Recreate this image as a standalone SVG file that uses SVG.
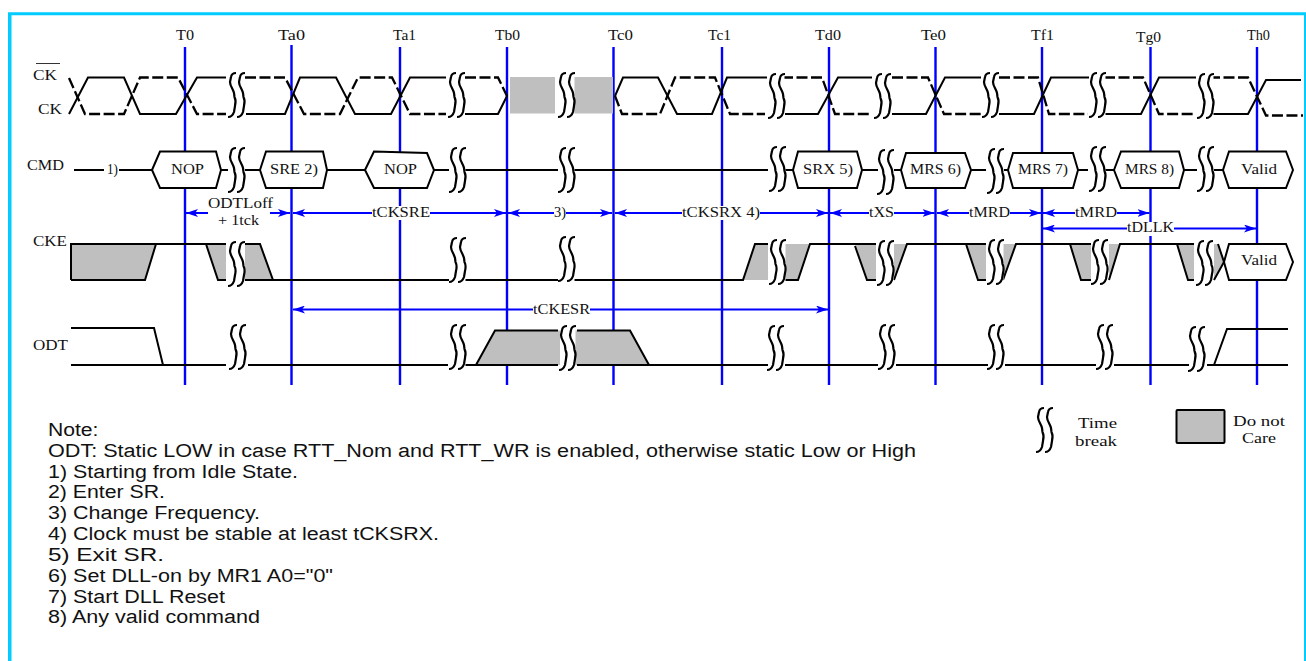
<svg xmlns="http://www.w3.org/2000/svg" width="1306" height="661" viewBox="0 0 1306 661">
<style>
.s{font-family:"Liberation Serif","Times New Roman",serif;font-size:14px;fill:#111}
.n{font-family:"Liberation Sans",Arial,sans-serif;font-size:18px;fill:#111}
.w{fill:none;stroke:#000;stroke-width:2;stroke-linejoin:miter}
.d{stroke-dasharray:11 3.5;stroke-width:2.3}
.g{fill:#bfbfbf;stroke:none}
.h{fill:#fff;stroke:#000;stroke-width:2}
.v{stroke:#0000ff;stroke-width:2.4;fill:none}
.a{stroke:#0000ff;stroke-width:1.8;fill:none;marker-start:url(#ah);marker-end:url(#ah)}
.b{fill:#fff;stroke:none}
.c{fill:none;stroke:#000;stroke-width:2.2;stroke-linejoin:round}
</style>
<defs>
<marker id="ah" markerUnits="userSpaceOnUse" markerWidth="12" markerHeight="8" refX="12" refY="4" orient="auto-start-reverse"><path d="M0,0L12,4L0,8L3,4Z" fill="#0000ff"/></marker>
<path id="bc" class="c" d="M8,0C5,0 3.5,1 3,4L2,9C2,13 5,16 6,20L6.5,24C8,27 8,29 7,33L6,39C5,42 3,44 0,44"/>
<g id="br">
<rect class="b" x="1" y="0" width="15.5" height="45"/>
<use href="#bc"/>
<use href="#bc" x="9"/>
</g>
</defs>
<rect width="1306" height="661" fill="#fff"/>
<path id="frame" d="M8,661V12.3H1306V661H1304V15.2H11.5V661Z" fill="#00ccff"/>

<g id="grid">
<path class="v" d="M185,47V385M291.5,45V385M400,47V385M507,47V385M613.5,47V385M722,47V385M829,47V385M935.5,47V385M1042,47V385M1150.5,47V385M1257,47V385"/>
</g>
<g id="ticks">
<text class="s" x="176" y="39.5" textLength="18" lengthAdjust="spacingAndGlyphs">T0</text>
<text class="s" x="278" y="39.5" textLength="27" lengthAdjust="spacingAndGlyphs">Ta0</text>
<text class="s" x="393" y="39.5" textLength="23" lengthAdjust="spacingAndGlyphs">Ta1</text>
<text class="s" x="495" y="39.5" textLength="25" lengthAdjust="spacingAndGlyphs">Tb0</text>
<text class="s" x="608" y="39.5" textLength="25" lengthAdjust="spacingAndGlyphs">Tc0</text>
<text class="s" x="708" y="39.5" textLength="23" lengthAdjust="spacingAndGlyphs">Tc1</text>
<text class="s" x="815" y="39.5" textLength="26" lengthAdjust="spacingAndGlyphs">Td0</text>
<text class="s" x="921" y="39.5" textLength="25" lengthAdjust="spacingAndGlyphs">Te0</text>
<text class="s" x="1031" y="39.5" textLength="23" lengthAdjust="spacingAndGlyphs">Tf1</text>
<text class="s" x="1136" y="42" textLength="25" lengthAdjust="spacingAndGlyphs">Tg0</text>
<text class="s" x="1247" y="39.5" textLength="23" lengthAdjust="spacingAndGlyphs">Th0</text>
</g>
<g id="signal-labels">
<text class="s" x="33" y="80" textLength="24" lengthAdjust="spacingAndGlyphs">CK</text>
<path d="M36,63.5H60" stroke="#333" stroke-width="1"/>
<text class="s" x="38" y="114" textLength="24" lengthAdjust="spacingAndGlyphs">CK</text>
<text class="s" x="27" y="170" textLength="37" lengthAdjust="spacingAndGlyphs">CMD</text>
<text class="s" x="33" y="246" textLength="34" lengthAdjust="spacingAndGlyphs">CKE</text>
<text class="s" x="33" y="350" textLength="35" lengthAdjust="spacingAndGlyphs">ODT</text>
</g>

<g id="clock">
<path class="w" d="M69,114L88,77.5H124L140,114H176L197,77.5H226"/>
<path class="w d" d="M69,78L85,114H124L140,77.5H178L197,114H226"/>
<path class="w d" d="M245,77.5H285L304,114H340L358,77.5H392L410,114H446"/>
<path class="w" d="M246,114H285L300,77.5H336L355,114H391L410,77.5H446"/>
<path class="w d" d="M465,77.5H498L507,96"/>
<path class="w" d="M465,114H498L507,96"/>
<rect class="g" x="510" y="77" width="45" height="36.5"/>
<rect class="g" x="574" y="77" width="39" height="36.5"/>
<path class="w" d="M615,96L623,77.5H658L677,114H712L727,77.5H767"/>
<path class="w d" d="M615,96L622,114H660L675,77.5H715L730,114H765"/>
<path class="w" d="M785,114H818L838,77.5H872"/>
<path class="w d" d="M782,77.5H822L835,114H872"/>
<path class="w" d="M892,114H926L945,77.5H981"/>
<path class="w d" d="M892,77.5H928L944,114H981"/>
<path class="w" d="M999,114H1034L1051,77.5H1089"/>
<path class="w d" d="M999,77.5H1038L1049,114H1088"/>
<path class="w" d="M1105,114H1141L1159,77.5H1196"/>
<path class="w d" d="M1104,77.5H1143L1159,114H1194"/>
<path class="w" d="M1213,114H1248L1266,80H1301"/>
<path class="w d" d="M1209,77.5H1248L1266,115.5H1303"/>
<g id="clock-breaks">
<use href="#br" x="228" y="73"/><use href="#br" x="448" y="73"/><use href="#br" x="558" y="73"/><use href="#br" x="768" y="74"/><use href="#br" x="874" y="74"/><use href="#br" x="982" y="73"/><use href="#br" x="1089" y="73"/><use href="#br" x="1197" y="74"/>
</g>
</g>

<g id="cmd-line">
<path class="w" d="M74,170H104M119,170H152M221,170H228M245,170H260M327,170H365M434,170H449M465,170H558M574,170H768M785,170H793M862,170H878M894,170H901M971,170H986M1004,170H1008M1078,170H1088M1105,170H1114M1184,170H1197M1214,170H1223"/>
<text class="s" x="107" y="174" textLength="11" lengthAdjust="spacingAndGlyphs">1)</text>
</g>
<g id="cmd-breaks">
<use href="#br" x="228" y="148"/><use href="#br" x="449" y="148"/><use href="#br" x="558" y="148"/><use href="#br" x="769" y="147"/><use href="#br" x="877" y="150"/><use href="#br" x="987" y="149"/><use href="#br" x="1089" y="147"/><use href="#br" x="1197" y="147"/>
</g>
<g id="cmd-nop1"><path class="h" d="M152,170L160,151.5H216L221,170L216,188H160Z"/><text class="s" x="171" y="174" textLength="33" lengthAdjust="spacingAndGlyphs">NOP</text></g>
<g id="cmd-sre"><path class="h" d="M260,170L266,151.5H323L327,170L323,188H266Z"/><text class="s" x="270" y="174" textLength="48" lengthAdjust="spacingAndGlyphs">SRE 2)</text></g>
<g id="cmd-nop2"><path class="h" d="M365,170L374,151.5L427,153L434,170L427,188H374Z"/><text class="s" x="384" y="174" textLength="33" lengthAdjust="spacingAndGlyphs">NOP</text></g>
<g id="cmd-srx"><path class="h" d="M793,170L798,151.5H857L862,170L857,188H798Z"/><text class="s" x="803" y="174" textLength="50" lengthAdjust="spacingAndGlyphs">SRX 5)</text></g>
<g id="cmd-mrs6"><path class="h" d="M901,170L906,153H965L971,170L965,188H906Z"/><text class="s" x="910" y="174" textLength="51" lengthAdjust="spacingAndGlyphs">MRS 6)</text></g>
<g id="cmd-mrs7"><path class="h" d="M1008,170L1013,153H1073L1078,170L1073,188H1013Z"/><text class="s" x="1018" y="174" textLength="50" lengthAdjust="spacingAndGlyphs">MRS 7)</text></g>
<g id="cmd-mrs8"><path class="h" d="M1114,170L1121,151.5H1179L1184,170L1179,188H1121Z"/><text class="s" x="1125" y="174" textLength="49" lengthAdjust="spacingAndGlyphs">MRS 8)</text></g>
<g id="cmd-valid"><path class="h" d="M1223,170L1229,151.5H1286L1293,170L1286,188H1229Z"/><text class="s" x="1241" y="174" textLength="36" lengthAdjust="spacingAndGlyphs">Valid</text></g>

<g id="timing">
<path class="a" d="M186,213H290"/>
<rect class="b" x="208" y="197" width="62" height="30"/>
<text class="s" x="208" y="208" textLength="65" lengthAdjust="spacingAndGlyphs">ODTLoff</text>
<text class="s" x="218" y="225" textLength="41" lengthAdjust="spacingAndGlyphs">+ 1tck</text>
<path class="a" d="M293,213H506"/>
<rect class="b" x="372" y="206" width="58" height="14"/>
<text class="s" x="372" y="217" textLength="58" lengthAdjust="spacingAndGlyphs">tCKSRE</text>
<path class="a" d="M508,213H612"/>
<rect class="b" x="554" y="206" width="12" height="14"/>
<text class="s" x="554" y="217" textLength="12" lengthAdjust="spacingAndGlyphs">3)</text>
<path class="a" d="M615,213H828"/>
<rect class="b" x="682" y="206" width="78" height="14"/>
<text class="s" x="682" y="217" textLength="78" lengthAdjust="spacingAndGlyphs">tCKSRX 4)</text>
<path class="a" d="M830,213H934.5"/>
<rect class="b" x="869" y="206" width="25" height="14"/>
<text class="s" x="869" y="217" textLength="25" lengthAdjust="spacingAndGlyphs">tXS</text>
<path class="a" d="M937,213H1041"/>
<rect class="b" x="969" y="206" width="41" height="14"/>
<text class="s" x="969" y="217" textLength="41" lengthAdjust="spacingAndGlyphs">tMRD</text>
<path class="a" d="M1043,213H1149.5"/>
<rect class="b" x="1075" y="206" width="42" height="14"/>
<text class="s" x="1075" y="217" textLength="42" lengthAdjust="spacingAndGlyphs">tMRD</text>
<path class="a" d="M1043,228.5H1256"/>
<rect class="b" x="1127" y="222" width="47" height="14"/>
<text class="s" x="1127" y="232" textLength="47" lengthAdjust="spacingAndGlyphs">tDLLK</text>
<path class="a" d="M293,309.5H828"/>
<rect class="b" x="533" y="303" width="57" height="13"/>
<text class="s" x="533" y="314" textLength="57" lengthAdjust="spacingAndGlyphs">tCKESR</text>
</g>

<g id="cke">
<path class="g" d="M71,244H156L145,280H71Z"/>
<path class="g" d="M206,244H226V280H218Z"/>
<path class="g" d="M245,244H260L273,280H245Z"/>
<path class="g" d="M755,244H768V280H743Z"/>
<path class="g" d="M785,244H810L798,280H785Z"/>
<path class="g" d="M855,244H876V280H867Z"/>
<path class="g" d="M894,244H907L894,280Z"/>
<path class="g" d="M966,244H986V280H978Z"/>
<path class="g" d="M1003,244H1016L1003,280Z"/>
<path class="g" d="M1070,244H1091V280H1081Z"/>
<path class="g" d="M1109,244H1120L1109,280Z"/>
<path class="g" d="M1177,244H1194V280H1188Z"/>
<path class="g" d="M1214,244H1218L1224,262L1214,280Z"/>
<path class="w" d="M71,280V244H226"/>
<path class="w" d="M71,280H145L156,244"/>
<path class="w" d="M206,244L218,280H226"/>
<path class="w" d="M245,244H260L273,280H449"/>
<path class="w" d="M245,280H273"/>
<path class="w" d="M465,280H558M574,280H743L755,244H768"/>
<path class="w" d="M785,280H798L810,244H876"/>
<path class="w" d="M855,246L867,280H876"/>
<path class="w" d="M894,280L907,244H986"/>
<path class="w" d="M966,244L978,280H986"/>
<path class="w" d="M1003,280L1016,244H1091"/>
<path class="w" d="M1070,244L1081,280H1091"/>
<path class="w" d="M1109,280L1120,244H1194"/>
<path class="w" d="M1177,244L1188,280H1194"/>
<path class="w" d="M1214,280L1224,262L1218,244"/>
<use href="#br" x="228" y="242"/><use href="#br" x="449" y="238"/><use href="#br" x="558" y="237"/><use href="#br" x="769" y="240"/><use href="#br" x="877" y="241"/><use href="#br" x="987" y="240"/><use href="#br" x="1091" y="240"/><use href="#br" x="1196" y="241"/>
<path class="h" d="M1224,262L1229,244H1286L1293,262L1286,280H1229Z"/>
<text class="s" x="1241" y="265" textLength="36" lengthAdjust="spacingAndGlyphs">Valid</text>
</g>

<g id="odt">
<path class="g" d="M476,365L495,330.5H630L649,365Z"/>
<path class="w" d="M71,328H154L163,365"/>
<path class="w" d="M71,365H226M248,365H448M465,365H558M577,365H768M785,365H878M896,365H988M1005,365H1096M1114,365H1189M1207,365H1288"/>
<path class="w" d="M476,365L495,330.5H558M577,330.5H630L649,365"/>
<path class="w" d="M1214,365L1227,329H1288"/>
<use href="#br" x="229" y="325"/><use href="#br" x="449" y="325"/><use href="#br" x="559" y="326"/><use href="#br" x="767" y="326"/><use href="#br" x="878" y="325"/><use href="#br" x="987" y="325"/><use href="#br" x="1096" y="325"/><use href="#br" x="1188" y="327"/>
</g>

<g id="legend">
<use href="#br" x="1036" y="408"/>
<text class="s" x="1078" y="428" textLength="39" lengthAdjust="spacingAndGlyphs">Time</text>
<text class="s" x="1075" y="446" textLength="42" lengthAdjust="spacingAndGlyphs">break</text>
<rect x="1176.5" y="410" width="48" height="33" rx="1" fill="#bfbfbf" stroke="#000" stroke-width="2"/>
<text class="s" x="1233" y="426" textLength="52" lengthAdjust="spacingAndGlyphs">Do not</text>
<text class="s" x="1242" y="443" textLength="34" lengthAdjust="spacingAndGlyphs">Care</text>
</g>

<g id="notes">
<text class="n" x="48" y="436" textLength="50.5" lengthAdjust="spacingAndGlyphs">Note:</text>
<text class="n" x="48" y="457" textLength="868" lengthAdjust="spacingAndGlyphs">ODT: Static LOW in case RTT_Nom and RTT_WR is enabled, otherwise static Low or High</text>
<text class="n" x="48" y="478" textLength="250" lengthAdjust="spacingAndGlyphs">1) Starting from Idle State.</text>
<text class="n" x="48" y="498" textLength="117" lengthAdjust="spacingAndGlyphs">2) Enter SR.</text>
<text class="n" x="48" y="519" textLength="212" lengthAdjust="spacingAndGlyphs">3) Change Frequency.</text>
<text class="n" x="48" y="540" textLength="391" lengthAdjust="spacingAndGlyphs">4) Clock must be stable at least tCKSRX.</text>
<text class="n" x="48" y="561" textLength="116" lengthAdjust="spacingAndGlyphs">5) Exit SR.</text>
<text class="n" x="48" y="582" textLength="285" lengthAdjust="spacingAndGlyphs">6) Set DLL-on by MR1 A0="0"</text>
<text class="n" x="48" y="603" textLength="177" lengthAdjust="spacingAndGlyphs">7) Start DLL Reset</text>
<text class="n" x="48" y="623" textLength="212" lengthAdjust="spacingAndGlyphs">8) Any valid command</text>
</g>
</svg>
